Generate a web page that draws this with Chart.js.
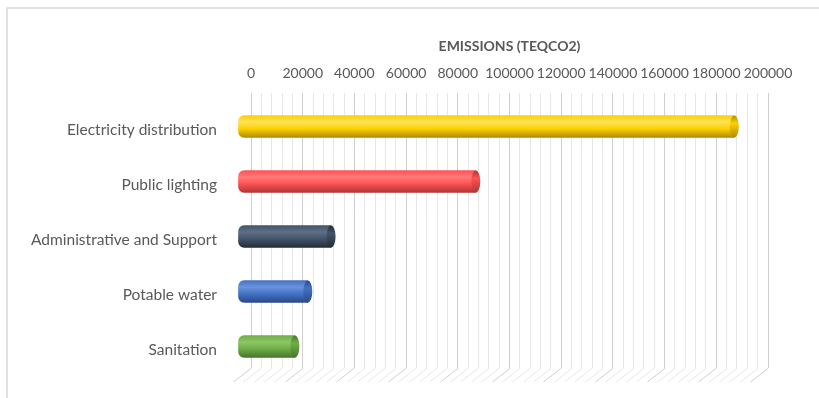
<!DOCTYPE html>
<html>
<head>
<meta charset="utf-8">
<script src="https://cdn.jsdelivr.net/npm/chart.js@4.4.1/dist/chart.umd.min.js"></script>
<style>
  html, body { margin: 0; padding: 0; background: #ffffff; }
  #wrap { width: 819px; height: 398px; position: relative; }
</style>
</head>
<body>
<div id="wrap"><canvas id="emissionsChart" width="819" height="398"></canvas></div>
<script>
// --- data ---
const categories = ['Electricity distribution', 'Public lighting', 'Administrative and Support', 'Potable water', 'Sanitation'];
const emissions = [192000, 92000, 36000, 27000, 22000];
const xTickLabels = [0, 20000, 40000, 60000, 80000, 100000, 120000, 140000, 160000, 180000, 200000];
const minorStep = 4000;

// --- colours (body / highlight / shadow) ---
const barColors = ['#FFD000', '#FF5252', '#44546A', '#4472C4', '#70AD47'];
const barLights = ['#FFE25A', '#FF7A7A', '#5E6F86', '#6A93DB', '#8CC665'];
const barShades = ['#B08C00', '#B03636', '#242D38', '#294A88', '#48762A'];

const textColor = '#595959';
const font = 'Lato, "Liberation Sans", sans-serif';

// 3D look: bars sit in front of the back wall, the floor runs out toward the viewer
const barDepth = { dx: -13, dy: 6 };
const floorDepth = { dx: -18, dy: 14 };

function cylinderGradient(ctx, top, bottom, i) {
    const g = ctx.createLinearGradient(0, top, 0, bottom);
    g.addColorStop(0, barColors[i]);
    g.addColorStop(0.3, barLights[i]);
    g.addColorStop(0.6, barColors[i]);
    g.addColorStop(1, barShades[i]);
    return g;
}

const frame = {
    id: 'frame',
    beforeDraw(chart) {
        const ctx = chart.ctx;
        ctx.save();
        ctx.strokeStyle = '#D9D9D9';
        ctx.lineWidth = 1.5;
        ctx.strokeRect(7, 8, chart.width + 20, chart.height + 20);
        ctx.restore();
    }
};

const depth3d = {
    id: 'depth3d',
    beforeDatasetsDraw(chart) {
        const ctx = chart.ctx;
        const x = chart.scales.x;
        const bottom = chart.chartArea.bottom;
        // floor lines
        ctx.save();
        ctx.lineWidth = 1;
        x.ticks.forEach(t => {
            const px = Math.round(x.getPixelForValue(t.value)) + 0.5;
            ctx.strokeStyle = t.value % 20000 === 0 ? '#CFCFCF' : '#E6E6E6';
            ctx.beginPath();
            ctx.moveTo(px, bottom);
            ctx.lineTo(px + floorDepth.dx, bottom + floorDepth.dy);
            ctx.stroke();
        });
        ctx.restore();
        ctx.save();
        ctx.translate(barDepth.dx, barDepth.dy);
    },
    afterDatasetsDraw(chart) {
        const ctx = chart.ctx;
        const meta = chart.getDatasetMeta(0);
        meta.data.forEach((bar, i) => {
            const h = bar.height;
            const top = bar.y - h / 2;
            const g = ctx.createLinearGradient(0, top, 0, top + h);
            g.addColorStop(0, barShades[i]);
            g.addColorStop(0.35, barColors[i]);
            g.addColorStop(1, barShades[i]);
            ctx.beginPath();
            ctx.ellipse(bar.x, bar.y, 4.5, h / 2, 0, 0, Math.PI * 2);
            ctx.fillStyle = g;
            ctx.fill();
        });
        ctx.restore();
    }
};

const ctx = document.getElementById('emissionsChart').getContext('2d');

new Chart(ctx, {
    type: 'bar',
    data: {
        labels: categories,
        datasets: [{
            data: emissions,
            backgroundColor: (c) => {
                const chart = c.chart;
                if (!chart.chartArea || c.type !== 'data') return barColors[c.dataIndex];
                const y = chart.scales.y.getPixelForValue(c.dataIndex);
                return cylinderGradient(chart.ctx, y - 11, y + 11, c.dataIndex);
            },
            borderWidth: 0,
            borderSkipped: false,
            borderRadius: { topLeft: 6, bottomLeft: 6, topRight: 0, bottomRight: 0 },
            barThickness: 22,
            clip: false
        }]
    },
    options: {
        indexAxis: 'y',
        responsive: false,
        animation: false,
        layout: { padding: { top: 25, left: 10, right: 51, bottom: 30 } },
        plugins: {
            legend: { display: false },
            tooltip: { enabled: false }
        },
        scales: {
            x: {
                position: 'top',
                min: 0,
                max: 200000,
                afterFit: (scale) => { scale.height = 68; },
                title: {
                    display: true,
                    text: 'EMISSIONS (TEQCO2)',
                    color: textColor,
                    font: { family: font, size: 14, weight: 'bold' },
                    padding: { top: 13, bottom: 0 }
                },
                ticks: {
                    stepSize: minorStep,
                    autoSkip: false,
                    maxRotation: 0,
                    padding: 11,
                    color: textColor,
                    font: { family: font, size: 14 },
                    callback: (v) => xTickLabels.includes(v) ? String(v) : ''
                },
                grid: {
                    drawTicks: false,
                    color: (c) => c.tick && c.tick.value % 20000 === 0 ? '#CFCFCF' : '#E6E6E6',
                    lineWidth: 1
                },
                border: { display: false }
            },
            y: {
                afterFit: (scale) => {
                    scale.width = 241;
                    // label padding should not eat into the plot height
                    scale.paddingTop = 0;
                    scale.paddingBottom = 0;
                },
                ticks: {
                    padding: 34,
                    labelOffset: 9,
                    color: textColor,
                    font: { family: font, size: 15.5 }
                },
                grid: { display: false, drawTicks: false },
                border: { display: false }
            }
        }
    },
    plugins: [frame, depth3d]
});
</script>
</body>
</html>
